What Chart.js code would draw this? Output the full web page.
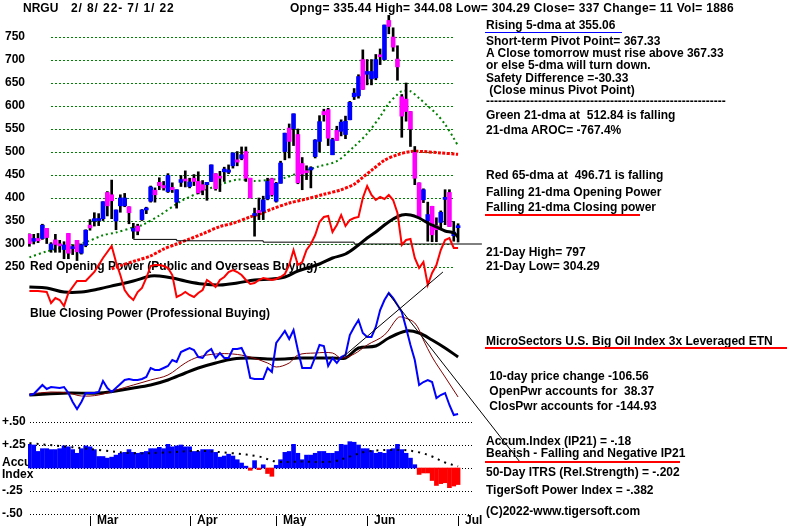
<!DOCTYPE html>
<html>
<head>
<meta charset="utf-8">
<title>NRGU</title>
<script src="https://cdn.jsdelivr.net/npm/chart.js@4.4.1/dist/chart.umd.min.js"></script>
<style>
html,body{margin:0;padding:0;background:#fff;}
#wrap{position:relative;width:800px;height:526px;overflow:hidden;background:#fff;}
#box{position:absolute;left:0;top:0;width:800px;height:526px;}
.t{position:absolute;font:bold 12px "Liberation Sans",Arial,sans-serif;color:#000;white-space:pre;line-height:14px;}
.u{position:absolute;}
</style>
</head>
<body>
<div id="wrap">
  <div id="box"><canvas id="chart"></canvas></div>
  <div class="t" style="left:23px;top:1px">NRGU</div>
  <div class="t" style="left:71px;top:1px;letter-spacing:0.9px">2/ 8/ 22- 7/ 1/ 22</div>
  <div class="t" style="left:290px;top:1px;letter-spacing:0.28px">Opng= 335.44 High= 344.08 Low= 304.29 Close= 337 Change= 11 Vol= 1886</div>

  <div class="t" style="left:486px;top:18px">Rising 5-dma at 355.06</div>
  <div class="u" style="left:485px;top:32px;width:137px;height:1px;background:#0000ff"></div>
  <div class="t" style="left:486px;top:34px">Short-term Pivot Point= 367.33</div>
  <div class="t" style="left:486px;top:46px">A Close tomorrow must rise above 367.33</div>
  <div class="t" style="left:486px;top:58px">or else 5-dma will turn down.</div>
  <div class="t" style="left:486px;top:71px">Safety Difference =-30.33</div>
  <div class="t" style="left:486px;top:83px"> (Close minus Pivot Point)</div>
  <div class="t" style="left:486px;top:94px">------------------------------------------------------------</div>
  <div class="t" style="left:486px;top:108px">Green 21-dma at  512.84 is falling</div>
  <div class="t" style="left:486px;top:123px">21-dma AROC= -767.4%</div>
  <div class="t" style="left:486px;top:168px">Red 65-dma at  496.71 is falling</div>
  <div class="t" style="left:486px;top:185px">Falling 21-dma Opening Power</div>
  <div class="t" style="left:486px;top:200px">Falling 21-dma Closing power</div>
  <div class="u" style="left:485px;top:214px;width:155px;height:2px;background:#ff0000"></div>
  <div class="t" style="left:486px;top:245px">21-Day High= 797</div>
  <div class="t" style="left:486px;top:259px">21-Day Low= 304.29</div>
  <div class="t" style="left:486px;top:334px">MicroSectors U.S. Big Oil Index 3x Leveraged ETN</div>
  <div class="u" style="left:485px;top:347px;width:302px;height:2px;background:#ff0000"></div>
  <div class="t" style="left:486px;top:369px"> 10-day price change -106.56</div>
  <div class="t" style="left:486px;top:384px"> OpenPwr accounts for  38.37</div>
  <div class="t" style="left:486px;top:399px"> ClosPwr accounts for -144.93</div>
  <div class="t" style="left:486px;top:434px">Accum.Index (IP21) = -.18</div>
  <div class="t" style="left:486px;top:446px">Bearish - Falling and Negative IP21</div>
  <div class="u" style="left:485px;top:461px;width:195px;height:2px;background:#ff0000"></div>
  <div class="t" style="left:486px;top:465px">50-Day ITRS (Rel.Strength) = -.202</div>
  <div class="t" style="left:486px;top:483px">TigerSoft Power Index = -.382</div>
  <div class="t" style="left:486px;top:504px">(C)2022-www.tigersoft.com</div>
</div>
<script>
// ===== Daily prices, 2/8/22 .. 7/1/22 (trading-day index 0..99) =====
const open = [321,306,312,312,334,288,309,299,288,323,
  290,308,280,297,341,350,351,355,412,407,
  350,383,383,381,328,339,353,374,393,417,
  434,427,414,423,391,434,440,425,443,436,
  429,429,436,453,447,457,456,470,483,486,
  501,443,362,373,371,398,442,393,432,501,
  552,551,538,475,458,461,490,523,588,592,
  494,547,545,538,570,620,622,701,669,659,
  661,710,701,786,750,702,620,615,588,499,
  433,396,350,382,340,347,397,412,318,335.44];
const high = [322,321,323,343,334,303,321,308,305,323,
  297,308,300,331,353,368,366,392,414,439,
  374,407,410,381,345,343,375,380,426,422,
  444,436,453,433,418,449,459,443,451,457,
  438,434,472,453,458,467,472,498,501,511,
  511,443,378,400,404,443,443,434,480,541,
  561,583,550,488,470,468,527,579,593,595,
  530,556,570,578,610,638,668,722,701,701,
  712,724,776,797,770,731,625,650,588,512,
  433,420,391,382,357,372,418,418,349,344.08];
const low = [295,300,303,310,301,282,282,282,268,268,
  277,264,278,294,330,339,340,351,361,355,
  331,369,381,344,312,320,351,366,391,391,
  418,417,412,412,378,425,424,422,427,409,
  407,395,436,417,414,436,453,465,470,483,
  436,400,317,353,353,396,404,391,432,483,
  487,514,431,418,440,422,487,500,567,514,
  494,525,535,529,570,614,617,636,646,646,
  657,690,700,757,719,656,532,567,512,429,
  357,390,306,305,305,335,342,338,306,304.29];
const close = [301,312,307,341,314,300,299,296,298,280,
  293,283,298,330,335,355,355,392,383,394,
  374,400,400,368,334,328,374,376,424,407,
  427,422,449,418,418,440,437,435,436,411,
  417,434,472,420,443,463,461,498,478,494,
  443,400,365,368,396,436,407,432,476,541,
  523,583,433,452,455,466,526,566,581,530,
  527,525,565,567,608,628,664,636,675,675,
  701,707,776,773,728,685,578,588,550,443,
  357,418,364,320,331,369,398,338,326,337];

// moving averages (day index, value)
const ma21Days = [0,4,8,13,17,20,24,26,30,35,39,44,48,52,56,59,62,67,71,75,78,81,83,85,86,88,90,92,94,96,98,99];
const ma21Vals = [271,284,293,304,319,325,336,341,362,393,411,429,440,437,440,444,454,469,480,512,540,577,606,625,632,632,617,600,583,560,530,513];
const ma65Days = [19,21,25,28,31,34,37,40,44,47,51,53,56,60,64,68,72,75,77,79,82,85,88,91,95,99];
const ma65Vals = [246,253,265,274,289,300,311,322,338,345,359,365,376,389,398,408,418,430,445,460,482,494,501,501,498,495];
const supportDays = [24,34,54,75,104.5];
const supportVals = [310,307,304,300,300];

// Opening Power (red) and its average (black)
const opDays = [0,2,4,5,6,7,8,9,11,13,15,17,19,20,21,22,23,24,25,26,27,28,29,30,31,32,33,34,35,36,37,38,39,40,41,42,43,44,45,46,47,48,49,50,51,52,53,54,55,56,57,58,59,60,61,62,63,64,65,66,67,68,69,70,71,72,73,74,75,76,77,78,79,80,81,82,83,84,85,86,87,88,89,90,91,92,93,94,95,96,97,98,99];
const opVals = [9,9,8,-3,2,0,-6,7,19,19,28,42,54,38,25,10,4,0,8,12,22,34,35,35,34,32,25,3,5,8,5,3,7,10,20,17,13,20,23,28,30,28,25,20,16,17,20,22,21,20,21,23,26,35,50,35,38,50,56,65,78,83,84,68,75,85,74,80,82,83,102,114,105,100,103,101,105,100,87,55,60,61,42,32,38,15,27,35,50,60,62,52,52];
const opMaDays = [0,4,8,12,16,20,24,28,30,33,36,40,44,48,52,56,59,62,67,70,73,76,78,80,82,84,86,88,90,92,94,96,98,99];
const opMaVals = [13,12,8,8,11,15,19,24,24,22,19,16,15,17,20,21,23,29,36,42,46,55,62,68,75,81,85,85,82,77,73,69,67,63];

// Closing Power (blue), its short (dark red) and long (black) averages
const cpDays = [0,1,3,4,5,7,8,9,10,11,12,13,15,16,17,18,19,21,22,23,24,25,26,27,28,29,30,31,32,33,34,35,36,37,38,39,40,41,42,43,44,45,46,47,48,49,50,51,52,53,54,55,56,57,58,59,60,61,62,63,64,65,66,67,68,69,70,71,72,73,74,75,76,77,78,79,80,81,82,83,84,85,86,87,88,89,90,91,92,93,94,95,96,97,98,99];
const cpVals = [25,26,35,31,33,32,33,27,18,11,18,27,27,28,39,32,28,36,40,41,40,40,41,43,52,50,50,52,54,60,58,68,70,72,70,63,62,68,71,62,67,62,62,71,71,72,63,42,41,41,41,52,48,77,83,89,81,90,70,52,52,52,63,75,74,54,62,57,63,65,85,93,100,87,83,83,93,110,120,127,122,115,108,92,75,60,35,38,40,38,22,25,27,15,5,6];
const cpShortDays = [0,5,9,12,16,20,24,28,32,36,39,43,47,51,55,57,60,62,66,70,72,75,78,82,85,86,89,91,93,96,99];
const cpShortVals = [26,28,27,24,25,30,35,40,45,57,63,66,66,63,57,53,57,65,67,67,62,66,75,85,102,103,97,80,63,43,23];
const cpLongDays = [0,9,16,24,28,32,36,39,43,47,51,55,59,62,66,70,73,76,80,83,87,90,93,96,99];
const cpLongVals = [25,27,27,32,35,40,47,52,57,61,62,61,61,62,62,62,62,72,74,82,89,87,80,72,63];
const trendUpDays = [72.4, 95.5];
const trendUpVals = [63, 148];
const trendDownDays = [82.8, 113.3];
const trendDownVals = [127, -42];

// Accumulation Index (IP21) and its average
const accum = [0.257,0.25,0.18,0.21,0.21,0.20,0.20,0.21,0.24,0.23,
  0.20,0.16,0.21,0.24,0.23,0.20,0.125,0.125,0.107,0.118,
  0.14,0.16,0.17,0.20,0.17,0.16,0.17,0.18,0.21,0.21,
  0.225,0.21,0.257,0.23,0.24,0.25,0.23,0.23,0.18,0.18,
  0.20,0.20,0.20,0.17,0.118,0.13,0.15,0.13,0.09,0.054,
  0.02,-0.025,0.08,-0.018,0.035,-0.06,-0.09,0.03,0.09,0.17,
  0.18,0.257,0.16,0.09,0.14,0.14,0.16,0.18,0.18,0.16,
  0.16,0.18,0.257,0.25,0.286,0.28,0.25,0.21,0.21,0.19,
  0.16,0.17,0.16,0.20,0.21,0.257,0.20,0.16,0.107,0.036,
  -0.07,-0.054,-0.054,-0.136,-0.19,-0.17,-0.16,-0.214,-0.196,-0.18];
const accMaDays = [0,9,16,24,32,39,47,53,57,63,70,74,78,86,90,93,96,99];
const accMaVals = [0.27,0.23,0.196,0.16,0.17,0.186,0.16,0.125,0.07,0.07,0.07,0.125,0.18,0.196,0.17,0.125,0.06,0.018];

// tick labels
const priceTicks = [750,700,650,600,550,500,450,400,350,300,250];
const accTicks = [0.5,0.25,0,-0.25,-0.5];
const accTickLabels = ['+.50','+.25','','-.25','-.50'];
const monthDays = [14,37,57,78,99];
const monthLabels = ['Mar','Apr','May','Jun','Jul'];

// ===== chart =====
const FONT = 'bold 12px "Liberation Sans", Arial, sans-serif';
const pts = (xs, ys) => xs.map((x, i) => ({x: x, y: ys[i]}));
const idx = close.map((_, i) => i);

function boxedText(ctx, txt, x, y) {
  const w = ctx.measureText(txt).width;
  ctx.fillStyle = '#fff';
  ctx.fillRect(x - 1, y - 7, w + 2, 14);
  ctx.fillStyle = '#000';
  ctx.fillText(txt, x, y);
}

const tiger = {
  id: 'tiger',
  beforeDatasetsDraw(chart) {
    const {ctx, scales} = chart;
    const yP = scales.y, yA = scales.yAcc, yC = scales.yCP;
    ctx.save();
    ctx.lineWidth = 1;
    ctx.strokeStyle = '#008000';
    ctx.setLineDash([2, 2]);
    priceTicks.forEach(v => {
      const py = Math.round(yP.getPixelForValue(v)) + 0.5;
      ctx.beginPath(); ctx.moveTo(51, py); ctx.lineTo(453, py); ctx.stroke();
    });
    ctx.strokeStyle = '#000';
    ctx.setLineDash([1, 2]);
    accTicks.forEach(v => {
      const py = Math.round(yA.getPixelForValue(v)) + 0.5;
      ctx.beginPath(); ctx.moveTo(30, py); ctx.lineTo(472, py); ctx.stroke();
    });
    ctx.setLineDash([]);
    ctx.font = FONT;
    ctx.textBaseline = 'middle';
    ctx.textAlign = 'left';
    priceTicks.forEach(v => boxedText(ctx, String(v), 5, yP.getPixelForValue(v)));
    boxedText(ctx, 'Red Opening Power (Public and Overseas Buying)', 30, yP.getPixelForValue(250));
    boxedText(ctx, 'Blue Closing Power (Professional Buying)', 30, yC.getPixelForValue(106));
    accTicks.forEach((v, i) => { if (accTickLabels[i]) boxedText(ctx, accTickLabels[i], 2, yA.getPixelForValue(v)); });
    ctx.fillStyle = '#000';
    ctx.fillText('Accu', 2, yA.getPixelForValue(0.055));
    ctx.fillText('Index', 2, yA.getPixelForValue(-0.075));
    ctx.restore();
  },
  afterDraw(chart) {
    const {ctx, scales} = chart;
    ctx.save();
    ctx.font = FONT;
    ctx.fillStyle = '#000';
    ctx.strokeStyle = '#000';
    ctx.lineWidth = 1;
    ctx.textBaseline = 'top';
    monthDays.forEach((d, i) => {
      const px = Math.round(scales.x.getPixelForValue(d)) + 0.5;
      ctx.beginPath(); ctx.moveTo(px, 516); ctx.lineTo(px, 526); ctx.stroke();
      ctx.fillText(monthLabels[i], px + 6.5, 515);
    });
    ctx.restore();
  }
};

const line = (xs, ys, color, width, axis, order, extra) => Object.assign({
  type: 'line', data: pts(xs, ys), borderColor: color, borderWidth: width,
  pointRadius: 0, tension: 0, yAxisID: axis, order: order, fill: false
}, extra || {});

new Chart(document.getElementById('chart'), {
  type: 'bar',
  data: {
    datasets: [
      line(trendUpDays, trendUpVals, '#000', 1, 'yCP', 0, {clip: false}),
      line(trendDownDays, trendDownVals, '#000', 1, 'yCP', 0, {clip: false}),
      line(cpDays, cpVals, '#0000ff', 2, 'yCP', 1),
      line(cpShortDays, cpShortVals, '#800000', 1, 'yCP', 2, {tension: 0.35}),
      line(cpLongDays, cpLongVals, '#000', 3, 'yCP', 3, {tension: 0.35}),
      line(opDays, opVals, '#ff0000', 2, 'yOP', 4),
      line(opMaDays, opMaVals, '#000', 3, 'yOP', 5, {tension: 0.35}),
      line(accMaDays, accMaVals, '#000', 2, 'yAcc', 6, {tension: 0.35, borderDash: [2, 5]}),
      {
        type: 'bar', data: idx.map(i => ({x: i, y: accum[i]})),
        backgroundColor: c => (accum[c.dataIndex] >= 0 ? '#0000ff' : '#ff0000'),
        barThickness: 4, grouped: false, yAxisID: 'yAcc', order: 7, borderWidth: 0
      },
      line(supportDays, supportVals, '#000', 1, 'y', 8, {stepped: true}),
      {
        type: 'bar', data: idx.map(i => ({x: i, y: [open[i], close[i]]})),
        backgroundColor: c => (close[c.dataIndex] >= open[c.dataIndex] ? '#0000ff' : '#ff00ff'),
        barThickness: 4, minBarLength: 2, grouped: false, yAxisID: 'y', order: 9, borderWidth: 0
      },
      {
        type: 'bar', data: idx.map(i => ({x: i, y: [low[i], high[i]]})),
        backgroundColor: '#000', barThickness: 2, grouped: false, yAxisID: 'y', order: 10, borderWidth: 0
      },
      line(ma21Days, ma21Vals, '#008000', 2, 'y', 11, {tension: 0.3, borderDash: [2, 3]}),
      line(ma65Days, ma65Vals, '#ff0000', 3, 'y', 12, {tension: 0.3, borderDash: [3, 1.5]})
    ]
  },
  options: {
    responsive: true,
    maintainAspectRatio: false,
    animation: false,
    devicePixelRatio: 1,
    events: [],
    layout: {padding: {left: 28, right: 312, top: 10, bottom: 10}},
    plugins: {legend: {display: false}, tooltip: {enabled: false}, title: {display: false}},
    scales: {
      x: {type: 'linear', min: -0.323, max: 105.91, display: false, offset: false},
      y: {type: 'linear', min: -291.3, max: 808.7, display: false},
      yOP: {type: 'linear', min: -216, max: 290, display: false},
      yCP: {type: 'linear', min: -96, max: 410, display: false},
      yAcc: {type: 'linear', min: -0.52174, max: 4.97826, display: false}
    }
  },
  plugins: [tiger]
});
</script>
</body>
</html>
